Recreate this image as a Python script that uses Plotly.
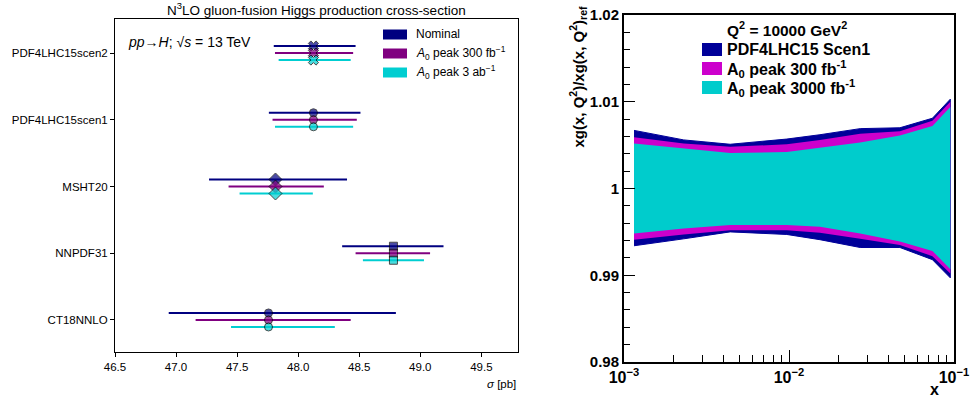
import plotly.graph_objects as go

W, H = 971, 403

# ---------------- left panel data ----------------
pdf_sets = ["PDF4LHC15scen2", "PDF4LHC15scen1", "MSHT20", "NNPDF31", "CT18NNLO"]
central = [48.125, 48.125, 47.814, 48.78, 47.757]
nominal_lo = [47.80, 47.76, 47.27, 48.36, 46.94]
nominal_hi = [48.47, 48.51, 48.40, 49.19, 48.80]
a0_300_lo = [47.81, 47.79, 47.43, 48.47, 47.16]
a0_300_hi = [48.45, 48.48, 48.21, 49.08, 48.43]
a0_3ab_lo = [47.84, 47.81, 47.52, 48.53, 47.45]
a0_3ab_hi = [48.43, 48.45, 48.12, 49.03, 48.30]
series_names = ["Nominal", "<i>A</i><sub>0</sub> peak 300 fb<sup>−1</sup>", "<i>A</i><sub>0</sub> peak 3 ab<sup>−1</sup>"]

# ---------------- right panel data ----------------
x_grid = [0.00115, 0.0023, 0.0044, 0.0097, 0.0154, 0.027, 0.047, 0.074, 0.095]
scen1_up = [1.0067, 1.0056, 1.0051, 1.0057, 1.0062, 1.0069, 1.0070, 1.0081, 1.0103]
scen1_dn = [0.9934, 0.9942, 0.9950, 0.9947, 0.9941, 0.9932, 0.9932, 0.9918, 0.9897]
a300_up = [1.0059, 1.0052, 1.0048, 1.0051, 1.0056, 1.0063, 1.0066, 1.0078, 1.0100]
a300_dn = [0.9941, 0.9947, 0.9952, 0.9952, 0.9949, 0.9942, 0.9935, 0.9922, 0.9902]
a3000_up = [1.0052, 1.0046, 1.0041, 1.0042, 1.0047, 1.0053, 1.0061, 1.0072, 1.0094]
a3000_dn = [0.9948, 0.9954, 0.9958, 0.9958, 0.9956, 0.9948, 0.9939, 0.9928, 0.9907]
band_names = ["PDF4LHC15 Scen1", "A<sub>0</sub> peak 300 fb<sup>-1</sup>", "A<sub>0</sub> peak 3000 fb<sup>-1</sup>"]

# ---------------- styles ----------------
left_colors = ["#000080", "#800080", "#00CED1"]
right_colors = ["#000099", "#CC00CC", "#00CCCC"]
set_markers = ["x", "circle", "diamond", "square", "circle"]
marker_sizes = {"x": 9, "circle": 8, "diamond": 10, "square": 8}
row_offsets = [-0.105, 0.0, 0.105]
LFONT = "Liberation Sans, Arial, sans-serif"


def px(x):
    return x / W


def py(y):
    return 1 - y / H


fig = go.Figure()

lo_list = [nominal_lo, a0_300_lo, a0_3ab_lo]
hi_list = [nominal_hi, a0_300_hi, a0_3ab_hi]
for k in range(3):
    yv = [i + row_offsets[k] for i in range(len(pdf_sets))]
    fig.add_trace(go.Scatter(
        x=central, y=yv, mode="markers",
        error_x=dict(type="data", symmetric=False,
                     array=[h - c for h, c in zip(hi_list[k], central)],
                     arrayminus=[c - l for l, c in zip(lo_list[k], central)],
                     color=left_colors[k], thickness=2, width=0),
        marker=dict(symbol=set_markers, color=left_colors[k],
                    size=[marker_sizes[s] for s in set_markers],
                    line=dict(color="black", width=1)),
        showlegend=False, xaxis="x", yaxis="y", name=series_names[k]))

# right panel bands
ups = [scen1_up, a300_up, a3000_up]
dns = [scen1_dn, a300_dn, a3000_dn]
for k in range(3):
    fig.add_trace(go.Scatter(
        x=x_grid + x_grid[::-1], y=ups[k] + dns[k][::-1],
        fill="toself", fillcolor=right_colors[k], mode="lines",
        line=dict(color=right_colors[k], width=1 if k == 0 else 0),
        showlegend=False, xaxis="x2", yaxis="y2", name=band_names[k]))

fig.update_layout(
    width=W, height=H, margin=dict(l=0, r=0, t=0, b=0, autoexpand=False),
    plot_bgcolor="white", paper_bgcolor="white",
    font=dict(family=LFONT, color="black"),
    xaxis=dict(domain=[px(115), px(518)], range=[46.5, 49.8], automargin=False,
               tickvals=[46.5, 47.0, 47.5, 48.0, 48.5, 49.0, 49.5],
               ticktext=["46.5", "47.0", "47.5", "48.0", "48.5", "49.0", "49.5"],
               ticks="outside", ticklen=4, tickcolor="black", tickwidth=1,
               showline=True, linecolor="black", linewidth=1, mirror=True,
               showgrid=False, zeroline=False, tickfont=dict(size=11.5, family=LFONT),
               anchor="y"),
    yaxis=dict(domain=[py(352), py(19)], range=[4.48, -0.51], automargin=False,
               tickvals=list(range(len(pdf_sets))), ticktext=pdf_sets,
               ticks="outside", ticklen=4, tickcolor="black", tickwidth=1,
               showline=True, linecolor="black", linewidth=1, mirror=True,
               showgrid=False, zeroline=False, tickfont=dict(size=11.5, family=LFONT),
               anchor="x"),
    xaxis2=dict(domain=[px(624), px(954)], type="log", range=[-3, -1], automargin=False,
                tickvals=[1e-3, 1e-2, 1e-1],
                ticktext=["10<sup>−3</sup>", "10<sup>−2</sup>", "10<sup>−1</sup>"],
                ticks="inside", ticklen=12, tickcolor="black", tickwidth=1,
                minor=dict(ticks="inside", ticklen=7, tickcolor="black", tickwidth=1,
                           tickvals=[m * 1e-3 for m in range(2, 10)] + [m * 1e-2 for m in range(2, 10)]),
                showline=True, linecolor="black", linewidth=2, mirror=True,
                showgrid=False, zeroline=False,
                tickfont=dict(size=16, family=LFONT, weight="bold"), anchor="y2"),
    yaxis2=dict(domain=[py(362), py(15)], range=[0.98, 1.02], automargin=False,
                tickvals=[0.98, 0.99, 1.0, 1.01, 1.02],
                ticktext=["0.98", "0.99", "1", "1.01", "1.02"],
                ticks="inside", ticklen=11, tickcolor="black", tickwidth=1,
                minor=dict(ticks="inside", ticklen=6, tickcolor="black", tickwidth=1, dtick=0.002),
                showline=True, linecolor="black", linewidth=2, mirror=True,
                showgrid=False, zeroline=False,
                tickfont=dict(size=15, family=LFONT, weight="bold"), anchor="x2"),
)

ann = []
shapes = []
# left title
ann.append(dict(x=px(316), y=py(9), xref="paper", yref="paper", showarrow=False,
                text="N<sup>3</sup>LO gluon-fusion Higgs production cross-section",
                font=dict(size=13.5, family=LFONT), xanchor="center", yanchor="middle"))
ann.append(dict(x=px(126), y=py(42), xref="paper", yref="paper", showarrow=False,
                text="<i>pp</i>→<i>H</i>; √<i>s</i> = 13 TeV",
                font=dict(size=14, family=LFONT), xanchor="left", yanchor="middle"))
ann.append(dict(x=px(518), y=py(384), xref="paper", yref="paper", showarrow=False,
                text="<i>σ</i> [pb]", font=dict(size=11.5, family=LFONT),
                xanchor="right", yanchor="middle"))
# left legend
for k, yc in enumerate([34.5, 53.5, 72.5]):
    shapes.append(dict(type="rect", xref="paper", yref="paper",
                       x0=px(383), x1=px(407), y0=py(yc - 5), y1=py(yc + 5),
                       fillcolor=left_colors[k], line=dict(width=0)))
    ann.append(dict(x=px(414), y=py(yc), xref="paper", yref="paper", showarrow=False,
                    text=series_names[k], font=dict(size=12, family=LFONT),
                    xanchor="left", yanchor="middle"))

# right legend
ann.append(dict(x=px(725), y=py(29), xref="paper", yref="paper", showarrow=False,
                text="<b>Q<sup>2</sup> = 10000 GeV<sup>2</sup></b>",
                font=dict(size=15.5, family=LFONT), xanchor="left", yanchor="middle"))
for k, (y0, y1) in enumerate([(43, 56), (62, 75), (81, 94)]):
    shapes.append(dict(type="rect", xref="paper", yref="paper",
                       x0=px(702), x1=px(722), y0=py(y1), y1=py(y0),
                       fillcolor=right_colors[k], line=dict(width=0)))
    ann.append(dict(x=px(725), y=py((y0 + y1) / 2), xref="paper", yref="paper", showarrow=False,
                    text="<b>" + band_names[k] + "</b>", font=dict(size=16, family=LFONT),
                    xanchor="left", yanchor="middle"))
# right axis titles
ann.append(dict(x=px(578), y=py(5), xref="paper", yref="paper", showarrow=False,
                text="<b>xg(x, Q<sup>2</sup>)/xg(x, Q<sup>2</sup>)<sub>ref</sub></b>",
                textangle=-90, font=dict(size=15, family=LFONT),
                xanchor="center", yanchor="top"))
ann.append(dict(x=px(934), y=py(389), xref="paper", yref="paper", showarrow=False,
                text="<b>x</b>", font=dict(size=16, family=LFONT),
                xanchor="center", yanchor="middle"))

fig.update_layout(annotations=ann, shapes=shapes)
fig.write_html("out.html", config={"displayModeBar": False},
               post_script="document.body.style.margin='0';document.body.style.overflow='hidden';")
